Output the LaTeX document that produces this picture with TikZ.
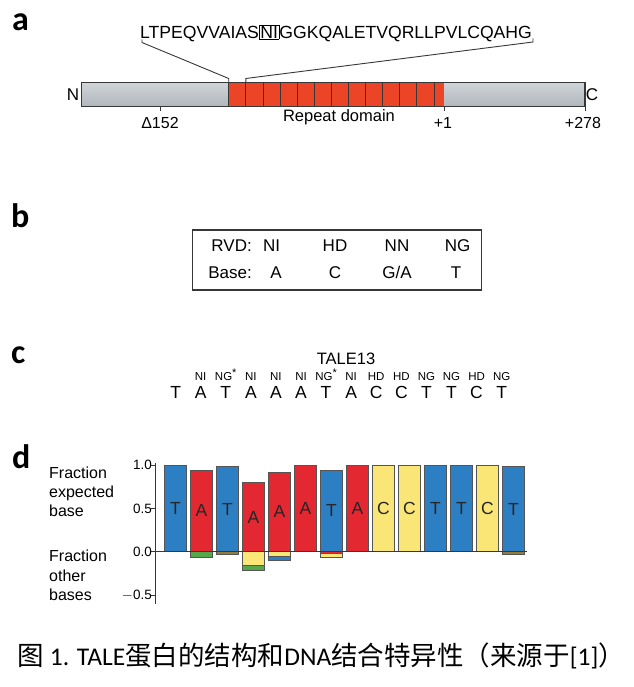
\documentclass[tikz,border=0pt]{standalone}
\usepackage{fontspec}
\setmainfont{Liberation Sans}
\newfontfamily\labfont{Carlito}
\newfontfamily\capfont{Carlito}
\newfontfamily\cjkfont{Noto Sans CJK SC}
\setlength{\fboxsep}{0.6pt}
\setlength{\fboxrule}{0.9pt}
\definecolor{tblue}{RGB}{44,127,194}
\definecolor{tred}{RGB}{228,40,50}
\definecolor{tyellow}{RGB}{249,230,118}
\definecolor{tgreen}{RGB}{84,168,74}
\definecolor{tolive}{RGB}{150,125,55}
\definecolor{rep}{RGB}{236,68,38}
\definecolor{greybar}{RGB}{192,198,204}
\definecolor{edge}{RGB}{55,55,55}
\definecolor{baredge}{RGB}{85,85,85}
\newcommand{\cjkpart}[1]{{\cjkfont\fontsize{26.5}{28}\selectfont #1}}
\newcommand{\latpart}[1]{{\capfont\fontsize{25.5}{27}\selectfont #1}}
\newcommand{\starmark}{\raisebox{3.5pt}{\fontsize{11}{11}\selectfont *}}
\begin{document}
\begin{tikzpicture}[x=1pt,y=-1pt,
  panel/.style={font=\labfont\bfseries\fontsize{34}{36}\selectfont, anchor=base west, inner sep=0pt},
  txt/.style={inner sep=0pt, font=\fontsize{#1}{#1}\selectfont},
  txt/.default=16,
  conn/.style={draw=edge, line width=0.9pt},
  tick/.style={draw=edge, line width=0.9pt},
  barstyle/.style={draw=baredge, line width=0.7pt},
  barletter/.style={inner sep=0pt, font=\fontsize{17.5}{17.5}\selectfont, text=black!85}
]
\useasboundingbox (0,0) rectangle (633,687);

% ---------------- panel a ----------------
\node[panel] (la) at (12,31) {a};
\node[txt=17.6, anchor=base west] (seq) at (140,38.3)
  {LTPEQVVAIAS\fbox{NI}GGKQALETVQRLLPVLCQAHG};
% protein bar
\shade[top color=greybar!75!white, bottom color=greybar!92!black, draw=edge, line width=1.1pt]
  (81.7,82.7) rectangle (585,106.5);
\fill[rep] (228.7,82.7) rectangle (444,106.5);
\foreach \k in {1,...,12} {
  \draw[edge, line width=0.8pt] ({228.7+17.1*\k},82.7) -- ({228.7+17.1*\k},106.5);
}
\draw[edge, line width=1.1pt] (81.7,82.7) rectangle (585,106.5);
\draw[edge, line width=0.8pt] (228.7,82.7) -- (228.7,106.5);
\coordinate (repL) at (228.7,82.7);
\coordinate (repL2) at (245.8,82.7);
\coordinate (seqL) at (142,39.5);
\coordinate (seqR) at (533,38.5);
\draw[conn] (seqL) -- ++(0,3) -- (228.7,78.5) -- (repL);
\draw[conn] (repL2) -- (245.8,78.5) -- (533,42) -- (seqR);
\node[txt=17, anchor=center] (nN) at (73,95) {N};
\node[txt=17, anchor=center] (nC) at (592,95) {C};
\coordinate (t152) at (160,106.5);
\coordinate (t1) at (444,106.5);
\coordinate (t278) at (585,106.5);
\draw[tick] (t152) -- ++(0,5);
\draw[tick] (t1) -- ++(0,5);
\draw[tick] (t278) -- ++(0,5);
\node[txt=16, anchor=base] (d152) at (160,128.3) {Δ152};
\node[txt=16, anchor=base] (p1) at (443,128.5) {+1};
\node[txt=16, anchor=base] (p278) at (583,128.5) {+278};
\node[txt=16.5, anchor=base] (repdom) at (339,121.5) {Repeat domain};

% ---------------- panel b ----------------
\node[panel] (lb) at (11,227) {b};
\draw[edge, line width=1.2pt] (192.3,230) rectangle (481.7,290);
\node[txt=17, anchor=base east] (rvd) at (252,251.7) {RVD:};
\node[txt=17, anchor=base east] (base) at (252,278) {Base:};
\node[txt=17, anchor=base] (r1) at (271.5,251.7) {NI};
\node[txt=17, anchor=base] (r2) at (335,251.7) {HD};
\node[txt=17, anchor=base] (r3) at (397,251.7) {NN};
\node[txt=17, anchor=base] (r4) at (457.5,251.7) {NG};
\node[txt=17, anchor=base] (b1) at (276,278) {A};
\node[txt=17, anchor=base] (b2) at (335,278) {C};
\node[txt=17, anchor=base] (b3) at (397,278) {G/A};
\node[txt=17, anchor=base] (b4) at (456,278) {T};

% ---------------- panel c ----------------
\node[panel] (lc) at (11,363) {c};
\node[txt=16.5, anchor=base] (tale) at (346,364) {TALE13};
\foreach \i/\l/\r in {1/T/,2/A/NI,3/T/NG\starmark,4/A/NI,5/A/NI,6/A/NI,
  7/T/NG\starmark,8/A/NI,9/C/HD,10/C/HD,11/T/NG,12/T/NG,13/C/HD,14/T/NG} {
  \node[txt=17.5, anchor=base] (s\i) at ({175.6+25.08*(\i-1)},398.3) {\l};
  \node[txt=11.5, anchor=base] (v\i) at ({175.6+25.08*(\i-1)},380) {\r};
}

% ---------------- panel d ----------------
\node[panel] (ld) at (12,468.3) {d};
\node[txt=16, anchor=base west] (f1a) at (49,478.3) {Fraction};
\node[txt=16, anchor=base west] (f1b) at (49,497.8) {expected};
\node[txt=16, anchor=base west] (f1c) at (49,516.7) {base};
\node[txt=16, anchor=base west] (f2a) at (49,561.7) {Fraction};
\node[txt=16, anchor=base west] (f2b) at (49,581.2) {other};
\node[txt=16, anchor=base west] (f2c) at (49,600) {bases};
% bars
\foreach \i/\h/\l/\c in {1/1.0/T/tblue, 2/0.94/A/tred, 3/0.985/T/tblue, 4/0.80/A/tred,
  5/0.92/A/tred, 6/1.0/A/tred, 7/0.94/T/tblue, 8/1.0/A/tred, 9/1.0/C/tyellow,
  10/1.0/C/tyellow, 11/1.0/T/tblue, 12/1.0/T/tblue, 13/1.0/C/tyellow, 14/0.98/T/tblue} {
  \draw[barstyle, fill=\c] ({164.3+26*(\i-1)},551.7) rectangle ++(22.4,{-86.7*\h});
  \node[barletter, anchor=center] (bl\i) at ({175.5+26*(\i-1)},{551.7-43.35*\h}) {\l};
}
\foreach \i/\a/\b/\c in {2/0/0.065/tgreen, 3/0/0.035/tolive, 4/0/0.155/tyellow, 4/0.155/0.22/tgreen,
  5/0/0.05/tyellow, 5/0.05/0.095/tblue, 7/0/0.02/tred, 7/0.02/0.065/tyellow, 14/0/0.035/tolive} {
  \draw[barstyle, fill=\c] ({164.3+26*(\i-1)},{551.7+86.7*\a}) rectangle ({186.7+26*(\i-1)},{551.7+86.7*\b});
}
% axes
\coordinate (ax0) at (155.7,551.7);
\coordinate (axE) at (526.7,551.7);
\coordinate (axT) at (155.7,463);
\coordinate (axB) at (155.7,604);
\draw[edge, line width=1pt] (ax0) -- (axE);
\draw[edge, line width=1.2pt] (axT) -- (axB);
\foreach \v/\t in {1.0/1.0, 0.5/0.5, 0.0/0.0, -0.5/{$-$0.5}} {
  \draw[edge, line width=1pt] (151,{551.7-86.7*\v}) -- (155.7,{551.7-86.7*\v});
  \node[txt=13.5, anchor=east] at (152,{551.7-86.7*\v}) {\t};
}

% ---------------- caption ----------------
\node[inner sep=0pt, anchor=base west] (cap) at (17.5,665)
  {\cjkpart{图}\latpart{ 1. TALE}\cjkpart{蛋白的结构和}\latpart{DNA}\cjkpart{结合特异性（来源于}\latpart{[1]}\cjkpart{）}};
\end{tikzpicture}
\end{document}
